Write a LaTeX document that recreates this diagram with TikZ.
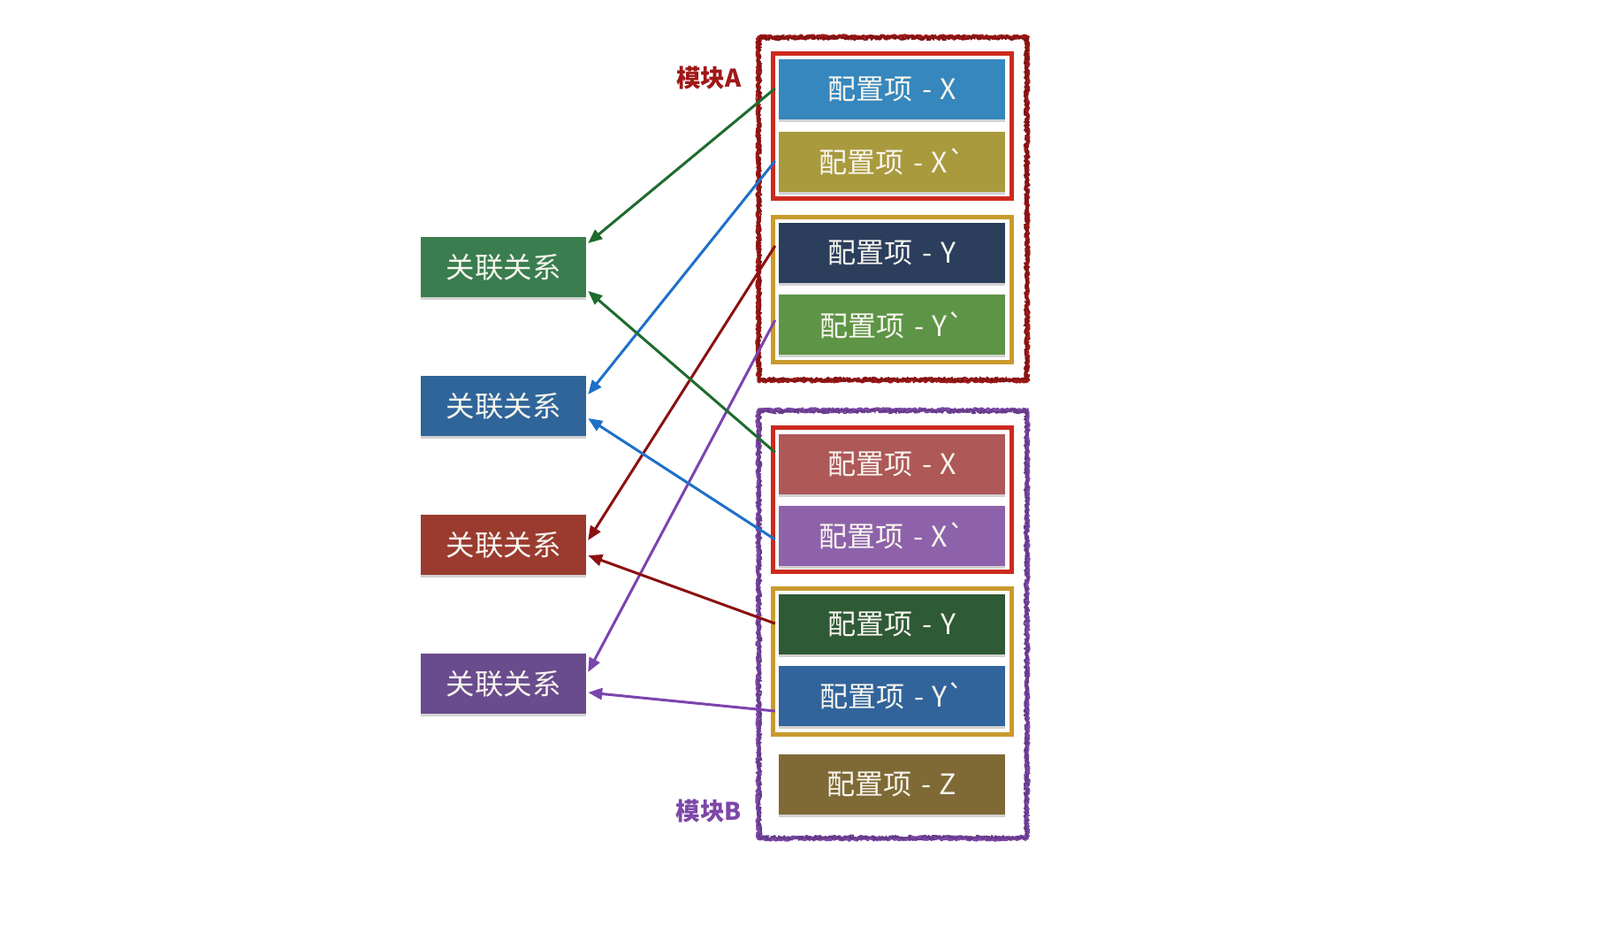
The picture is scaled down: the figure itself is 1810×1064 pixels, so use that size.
\documentclass[tikz,border=0pt]{standalone}
\usepackage{fontspec}
\setmainfont{Noto Sans CJK SC}
\newfontfamily\cjk{Noto Sans CJK SC}
\usetikzlibrary{shadows,decorations.pathmorphing,arrows.meta}
\definecolor{cAX}{HTML}{3587BD}
\definecolor{cAXp}{HTML}{A99A3E}
\definecolor{cAY}{HTML}{2B3E5C}
\definecolor{cAYp}{HTML}{5E9446}
\definecolor{cBX}{HTML}{AE5858}
\definecolor{cBXp}{HTML}{8E62AA}
\definecolor{cBY}{HTML}{2F5A36}
\definecolor{cBYp}{HTML}{31649B}
\definecolor{cBZ}{HTML}{7F6A36}
\definecolor{gG}{HTML}{3A7D4E}
\definecolor{gB}{HTML}{2F6599}
\definecolor{gR}{HTML}{9B3B30}
\definecolor{gP}{HTML}{6A4B8D}
\definecolor{grpR}{HTML}{CC2A1E}
\definecolor{grpY}{HTML}{C99A2E}
\definecolor{modA}{HTML}{A01818}
\definecolor{modB}{HTML}{7D48A8}
\definecolor{aG}{HTML}{1E6B2E}
\definecolor{aB}{HTML}{1E70C8}
\definecolor{aR}{HTML}{8B1010}
\definecolor{aP}{HTML}{7B44AE}
\definecolor{txt}{HTML}{F7F5EE}
\newcommand\cfgtext[1]{配置项\hspace{11pt}-\hspace{9pt}#1}
\begin{document}
\begin{tikzpicture}[x=1pt,y=-1pt,
  cfg/.style={minimum width=256pt,minimum height=68pt,inner sep=0pt,text=txt,
    font=\cjk\fontsize{32}{38}\selectfont,
    drop shadow={shadow xshift=0pt,shadow yshift=-3pt,opacity=0.35}},
  rel/.style={minimum width=187pt,minimum height=68pt,inner sep=0pt,text=txt,
    font=\cjk\fontsize{32.5}{38}\selectfont,
    drop shadow={shadow xshift=0pt,shadow yshift=-3pt,opacity=0.35}},
  grp/.style={line width=5pt},
  scrib/.style={line width=4pt,decorate,line join=round,
    decoration={random steps,segment length=1.8pt,amplitude=1.8pt}},
  scribthin/.style={line width=1.6pt,decorate,line join=round,
    decoration={random steps,segment length=1.2pt,amplitude=2.6pt}},
  modlabel/.style={font=\bfseries\fontsize{27.5}{32}\selectfont},
  conn/.style={line width=3pt,-{Triangle[length=16pt,width=13pt]}}]
\useasboundingbox (0,0) rectangle (1810,1064);
\fill[white] (0,0) rectangle (1810,1064);

% module frames
\draw[scrib,modA] (858,42) rectangle (1162,430);
\draw[scribthin,modA] (858,42) rectangle (1162,430);
\draw[scribthin,modA!80!black] (859,43) rectangle (1161,429);
\draw[scrib,modB] (858,464) rectangle (1162,948);
\draw[scribthin,modB] (858,464) rectangle (1162,948);
\draw[scribthin,modB!80!black] (859,465) rectangle (1161,947);

% group frames
\draw[grp,grpR] (874.5,60.5) rectangle (1144.5,224.5);
\draw[grp,grpY] (874.5,245.5) rectangle (1144.5,409.5);
\draw[grp,grpR] (874.5,483.5) rectangle (1144.5,646.5);
\draw[grp,grpY] (874.5,665.5) rectangle (1144.5,830.5);

% module labels
\node[modlabel,text=modA] (labA) at (802,88) {模块A};
\node[modlabel,text=modB] (labB) at (802,917) {模块B};

% configuration boxes, module A
\node[cfg,fill=cAX]  (ax)  at (1009,101)   {\cfgtext{X}};
\node[cfg,fill=cAXp] (axp) at (1009,183)   {\cfgtext{X`}};
\node[cfg,fill=cAY]  (ay)  at (1009,286)   {\cfgtext{Y}};
\node[cfg,fill=cAYp] (ayp) at (1009,367.5) {\cfgtext{Y`}};
% module B
\node[cfg,fill=cBX]  (bx)  at (1009,524.5) {\cfgtext{X}};
\node[cfg,fill=cBXp] (bxp) at (1009,606)   {\cfgtext{X`}};
\node[cfg,fill=cBY]  (by)  at (1009,706)   {\cfgtext{Y}};
\node[cfg,fill=cBYp] (byp) at (1009,787)   {\cfgtext{Y`}};
\node[cfg,fill=cBZ]  (bz)  at (1009,887)   {\cfgtext{Z}};

% relation boxes
\node[rel,fill=gG] (g1) at (569.5,302) {关联关系};
\node[rel,fill=gB] (g2) at (569.5,459) {关联关系};
\node[rel,fill=gR] (g3) at (569.5,616) {关联关系};
\node[rel,fill=gP] (g4) at (569.5,773) {关联关系};

% connectors
\draw[conn,aG] ([xshift=-4pt,yshift=1pt]ax.west)    -- ([xshift=2pt,yshift=27pt]g1.east);
\draw[conn,aB] ([xshift=-4pt,yshift=1pt]axp.west)   -- ([xshift=2pt,yshift=13pt]g2.east);
\draw[conn,aR] ([xshift=-4pt,yshift=8pt]ay.west)    -- ([xshift=2pt,yshift=5pt]g3.east);
\draw[conn,aP] ([xshift=-4pt,yshift=5.5pt]ayp.west) -- ([xshift=2pt,yshift=13pt]g4.east);
\draw[conn,aG] ([xshift=-4pt,yshift=13pt]bx.west)   -- ([xshift=2pt,yshift=-27pt]g1.east);
\draw[conn,aB] ([xshift=-4pt,yshift=-4pt]bxp.west)  -- ([xshift=2pt,yshift=-14pt]g2.east);
\draw[conn,aR] ([xshift=-4pt,yshift=1pt]by.west)    -- ([xshift=2pt,yshift=-12pt]g3.east);
\draw[conn,aP] ([xshift=-4pt,yshift=-17pt]byp.west) -- ([xshift=2pt,yshift=-10pt]g4.east);
\end{tikzpicture}
\end{document}
